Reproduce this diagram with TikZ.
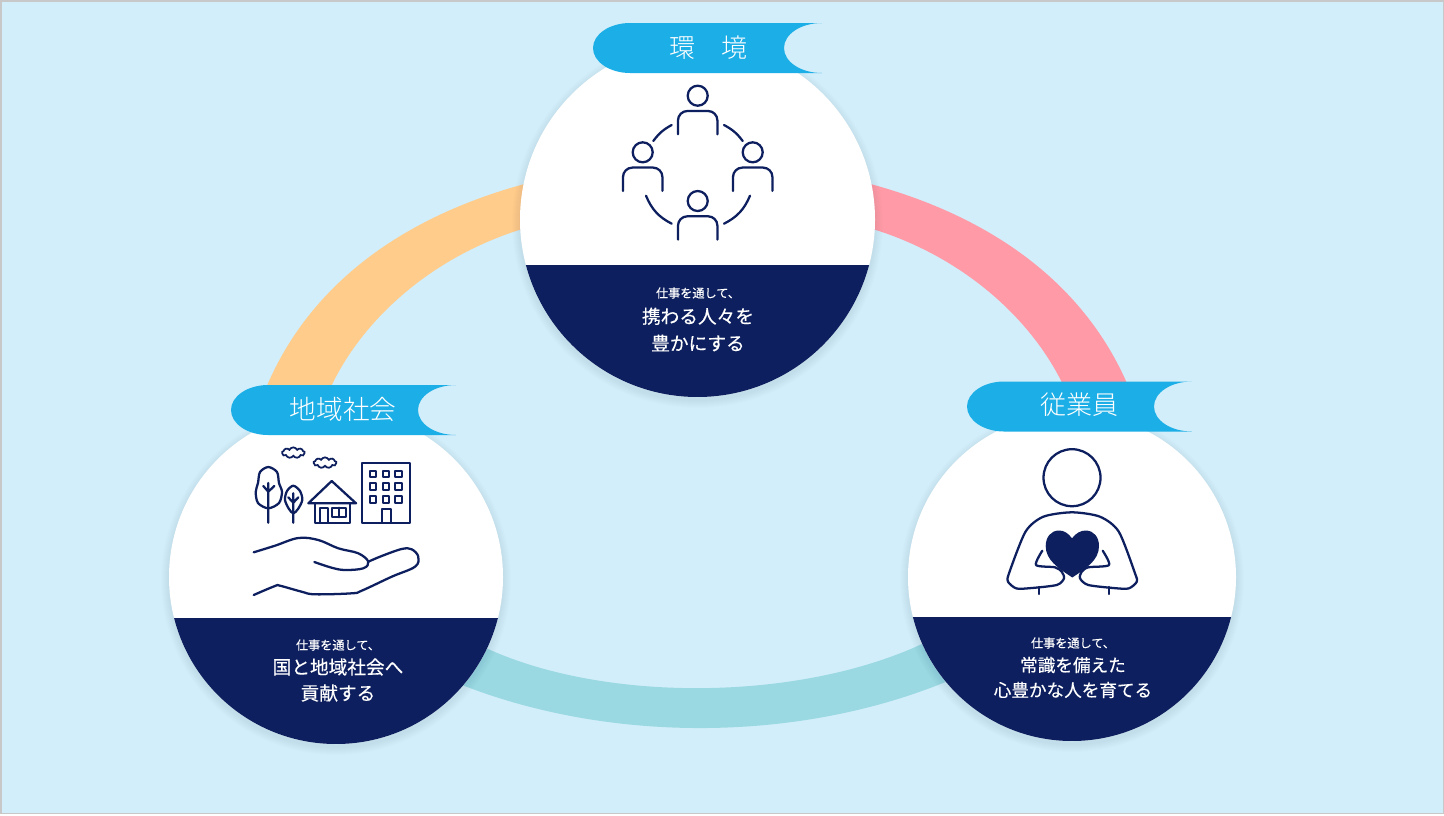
\documentclass[tikz,border=0pt]{standalone}
\usepackage{fontspec}
\usepackage{xcolor}
\usetikzlibrary{shapes.symbols, positioning}
\setmainfont{Noto Sans CJK JP}
\newfontfamily\lightcjk{Noto Sans CJK JP Light}
\definecolor{skybg}{HTML}{D2EEFA}
\definecolor{frameline}{HTML}{C8C8C8}
\definecolor{tagblue}{HTML}{1CAEE6}
\definecolor{navyband}{HTML}{0D1F5E}
\definecolor{ringorange}{HTML}{FFCC8B}
\definecolor{ringpink}{HTML}{FF9AA6}
\definecolor{ringteal}{HTML}{9BD9E2}

\begin{document}
\begin{tikzpicture}[
    x=0.75pt, y=-0.75pt,
    disc/.style={circle, fill=white, inner sep=0pt},
    icon/.style={draw=navyband, line width=1.7pt, line cap=round, line join=round},
    puff/.style={cloud, cloud puffs=9, cloud puff arc=130, aspect=2.4, draw=navyband, line width=1.3pt,
      minimum width=17pt, minimum height=8pt, inner sep=0pt},
    title/.style={text=white, font=\lightcjk\fontsize{19.5}{24}\selectfont},
    subline/.style={text=white, font=\addfontfeature{FakeBold=0.2}\fontsize{9.1}{11}\selectfont},
    mainline/.style={text=white, align=center},
    person/.pic={
      \draw[icon] (0,0) circle (10);
      \draw[icon, rounded corners=7pt] (-19.7,38.6) -- (-19.7,15.3) -- (19.7,15.3) -- (19.7,38.6);
    },
  ]

  \useasboundingbox (0,0) rectangle (1444,815);
  \fill[frameline] (0,0) rectangle (1444,814);
  \fill[skybg] (1.5,1.5) rectangle (1442.5,812.5);

  \fill[ringorange] (262,398) .. controls (305,285) and (405,213) .. (540,180)
    -- (540,224) .. controls (437,250) and (358,320) .. (326,398) -- cycle;
  \fill[ringpink] (1133,398) .. controls (1090,285) and (990,213) .. (855,180)
    -- (855,224) .. controls (958,250) and (1037,320) .. (1069,398) -- cycle;
  \fill[ringteal] (445,678) .. controls (600,744.7) and (800,744.7) .. (955,678)
    -- (940,635) .. controls (810,705) and (590,705) .. (470,640) -- cycle;

  \foreach \cx/\cy/\rr/\cut/\nm in {697.5/219.5/177.5/265/envDisc, 336/577/167/618/socDisc, 1072/577/164/617/empDisc} {
    \foreach \k in {1,...,8}
      \fill[navyband, opacity=0.007] (\cx,\cy+3) circle (\rr+\k);
    \node[disc, minimum size=\rr*1.5pt] (\nm) at (\cx,\cy) {};
    \begin{scope}
      \clip (\cx,\cy) circle (\rr);
      \fill[navyband] (\cx-\rr,\cut) rectangle (\cx+\rr,\cy+\rr);
    \end{scope}
  }

  \pic at (697.7,95.7) {person};
  \pic at (642.7,152.3) {person};
  \pic at (752.7,152.3) {person};
  \pic at (697.7,201) {person};
  \draw[icon] (671.7,125) to[bend right=12.5] (653.3,141);
  \draw[icon] (724,125) to[bend left=12.5] (742.7,141);
  \draw[icon] (646,195.7) to[bend right=20] (671.7,223.7);
  \draw[icon] (750,195.7) to[bend left=20] (724,223.7);

  \node[puff] (cloudA) at (293.3,452.7) {};
  \node[puff] (cloudB) at (325,462.7) {};
  \draw[icon] plot[smooth cycle] coordinates {(268.3,467) (277,472) (279,483) (282,492) (279,503) (268.3,508.3) (258,503) (255.7,492) (258,483) (260,472)};
  \draw[icon] (268.3,483) -- (268.3,522.7) (263.3,486) -- (268.3,491.7) -- (274.3,486);
  \draw[icon] plot[smooth cycle] coordinates {(293.3,485.7) (300,491) (302.3,500) (298,509) (293.3,513.3) (289,509) (285,500) (287,491)};
  \draw[icon] (293.3,493.3) -- (293.3,522.7) (288.3,497.3) -- (293.3,502.7) -- (298.3,497.3);
  \draw[icon] (308.3,503.3) -- (331.7,481) -- (356,503.3) -- cycle;
  \draw[icon] (315,503.3) -- (315,522.7) -- (350,522.7) -- (350,503.3);
  \draw[icon] (320,522.7) -- (320,507.7) -- (327.7,507.7) -- (327.7,522.7);
  \draw[icon] (332.3,507.7) rectangle (346,517.3) (339,507.7) -- (339,517.3);
  \draw[icon] (362,463.3) rectangle (410,522.7);
  \foreach \wx in {373,386,398.7}
    \foreach \wy in {474,486.7,499.3}
      \draw[icon, line width=1.5pt] (\wx-3.4,\wy-3.4) rectangle (\wx+3.4,\wy+3.4);
  \draw[icon] (381.7,522.7) -- (381.7,509.3) -- (390.7,509.3) -- (390.7,522.7);
  \draw[icon] plot[smooth, tension=0.6] coordinates {(253.7,552.3) (275,545.7) (298.3,538) (318.3,540) (338.3,548.3) (358.3,553.3) (368.3,561.7) (363.3,568.3) (345,570) (331.7,567.7) (314.3,562)};
  \draw[icon] plot[smooth, tension=0.6] coordinates {(368.3,561.7) (381.7,556) (401.7,549) (411.7,549.3) (418.3,556.7) (415,566.7) (391.7,576.7) (361.7,590.7) (351.7,593.3) (315,594.3) (301.7,591.7) (280,585.7) (275,586) (253.7,595)};

  \draw[icon] (1072,477.7) circle (28.5);
  \draw[icon] plot[smooth, tension=0.45] coordinates {(1042.3,550.7) (1036,565) (1055,567.3) (1061.7,571.7) (1064,578.3) (1056.7,585) (1028.3,588.3) (1016,588.3) (1008,581.7) (1009,573.3) (1025.5,531.7) (1043.3,516.7) (1072,512.3) (1100,516.7) (1118.8,531.7) (1135,573.3) (1136.8,581.7) (1129,588.3) (1116.7,588.3) (1088.3,585) (1080,578.3) (1081.7,571.7) (1088.3,567.3) (1109,565) (1102.7,550.7)};
  \draw[icon] (1039.3,587) -- (1039.3,594) (1109,587) -- (1109,594);
  \fill[navyband] (1072,538.3) .. controls (1068,533) and (1064,530.5) .. (1059,530.5)
    .. controls (1051,530.5) and (1045.7,537) .. (1045.7,546)
    .. controls (1045.7,560) and (1058,568) .. (1072.3,577.5)
    .. controls (1086.6,568) and (1099,560) .. (1099,546)
    .. controls (1099,537) and (1093.7,530.5) .. (1085.7,530.5)
    .. controls (1080.7,530.5) and (1076,533) .. (1072,538.3) -- cycle;

  \foreach \px/\py/\cut in {593/23/191, 231/385/187, 967/381.5/187}
    \fill[tagblue] (\px+37,\py) -- (\px+\cut+38,\py)
      .. controls (\px+\cut+17,\py) and (\px+\cut,\py+11) .. (\px+\cut,\py+25)
      .. controls (\px+\cut,\py+39) and (\px+\cut+17,\py+50) .. (\px+\cut+38,\py+50)
      -- (\px+37,\py+50)
      .. controls (\px+17,\py+50) and (\px,\py+39) .. (\px,\py+25)
      .. controls (\px,\py+11) and (\px+17,\py) .. (\px+37,\py) -- cycle;

  \node[title] (envTitle) at (708,48) {環　境};
  \node[title, font=\lightcjk\fontsize{20}{24}\selectfont] (socTitle) at (343,409) {地域社会};
  \node[title] (empTitle) at (1079,405) {従業員};

  \node[subline] (envSub) at (698,293) {仕事を通して、};
  \node[mainline, font=\addfontfeature{FakeBold=0.4}\fontsize{14}{20.25}\selectfont] (envMain) at (698,329.5) {携わる人々を\\豊かにする};
  \node[subline] (socSub) at (338,645) {仕事を通して、};
  \node[mainline, font=\addfontfeature{FakeBold=0.4}\fontsize{14}{19.5}\selectfont] (socMain) at (338,680) {国と地域社会へ\\貢献する};
  \node[subline] (empSub) at (1073,643) {仕事を通して、};
  \node[mainline, font=\addfontfeature{FakeBold=0.4}\fontsize{13.2}{18.75}\selectfont] (empMain) at (1073,677.5) {常識を備えた\\心豊かな人を育てる};
\end{tikzpicture}
\end{document}
